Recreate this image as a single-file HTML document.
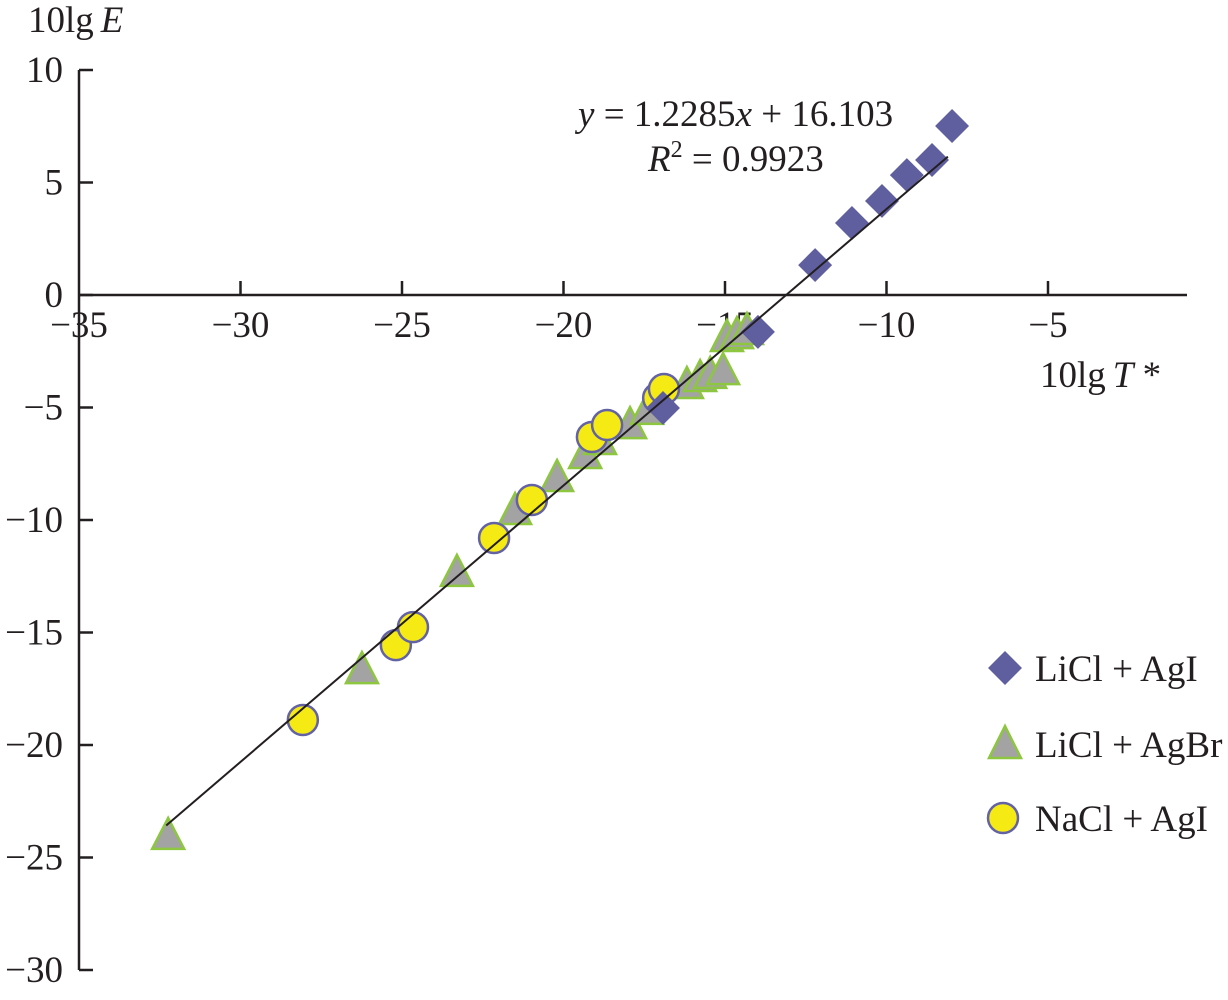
<!DOCTYPE html>
<html><head><meta charset="utf-8"><style>
html,body{margin:0;padding:0;background:#fff;}
svg text{font-family:"Liberation Serif",serif;font-size:37px;fill:#231f20;}
</style></head><body>
<svg id="chart" width="1228" height="995" xmlns="http://www.w3.org/2000/svg">
<g id="axes"></g>
<g id="marks"></g>
<text x="28" y="32">10lg<tspan font-style="italic" dx="7">E</tspan></text>
<text x="1040" y="387">10lg<tspan font-style="italic" dx="7">T</tspan> *</text>
<text x="578" y="126"><tspan font-style="italic">y</tspan> = 1.2285<tspan font-style="italic">x</tspan> + 16.103</text>
<text x="648" y="171"><tspan font-style="italic">R</tspan><tspan font-size="24" dy="-14">2</tspan><tspan dy="14"> = 0.9923</tspan></text>
<g>
<g>
<rect x="993" y="656" width="24" height="24" fill="#5f5f9f" transform="rotate(45 1005 668)"/>
<text x="1035" y="681">LiCl + AgI</text></g>
<g>
<polygon points="1005,726 989,758 1021,758" fill="#a3a3a3" stroke="#8dc63f" stroke-width="2.5"/>
<text x="1035" y="757">LiCl + AgBr</text></g>
<g>
<circle cx="1003" cy="818" r="15" fill="#f5ea14" stroke="#6262a5" stroke-width="2.5"/>
<text x="1035" y="831">NaCl + AgI</text></g>
</g>
</svg>
<script>
const xTicks=[-35,-30,-25,-20,-15,-10,-5];
const yTicks=[10,5,0,-5,-10,-15,-20,-25,-30];
const liclAgiX=[-7.97,-8.59,-9.37,-10.14,-11.07,-12.21,-13.98,-16.92];
const liclAgiY=[7.51,6.0,5.33,4.18,3.2,1.33,-1.64,-5.02];
const liclAgbrX=[-32.24,-26.24,-23.30,-21.50,-20.20,-19.33,-18.87,-17.94,-17.41,-16.18,-15.77,-15.46,-15.06,-14.94,-14.63,-14.32];
const liclAgbrY=[-24.13,-16.76,-12.44,-9.69,-8.22,-7.2,-6.58,-5.87,-5.24,-4.09,-3.78,-3.64,-3.47,-2.0,-1.87,-1.69];
const naclAgiX=[-28.07,-25.19,-24.66,-22.15,-20.98,-19.12,-18.65,-17.07,-16.89];
const naclAgiY=[-18.89,-15.56,-14.76,-10.8,-9.11,-6.31,-5.78,-4.58,-4.18];
const fitSlope=1.2285, fitIntercept=16.103, fitRange=[-32.3,-8.1];

const sx=v=>79+(v+35)*32.3;
const sy=v=>295-v*22.5;
const NS="http://www.w3.org/2000/svg";
const axes=document.getElementById('axes'), marks=document.getElementById('marks');
function mk(tag,attrs,parent){const e=document.createElementNS(NS,tag);for(const k in attrs)e.setAttribute(k,attrs[k]);parent.appendChild(e);return e;}

const ya=mk('line',{x1:79,y1:sy(10),x2:79,y2:sy(-30),stroke:'#231f20','stroke-width':2.5},axes);


const xa=mk('line',{x1:79,y1:sy(0),x2:1187,y2:sy(0),stroke:'#231f20','stroke-width':2.5},axes);


yTicks.forEach(t=>{
  const l=mk('line',{x1:79,y1:sy(t),x2:93,y2:sy(t),stroke:'#231f20','stroke-width':2.5},axes);
  
  
  const tx=mk('text',{x:63,y:sy(t)+12,'text-anchor':'end'},axes);
  tx.textContent=(t<0?'\u2212'+(-t):String(t));
  
  
});
xTicks.forEach(t=>{
  if(t!==-35){const l=mk('line',{x1:sx(t),y1:295,x2:sx(t),y2:281,stroke:'#231f20','stroke-width':2.5},axes);
  
  }
  const tx=mk('text',{x:sx(t),y:337,'text-anchor':'middle'},axes);
  tx.textContent='\u2212'+(-t);
  
  
});
liclAgbrX.forEach((x,i)=>{
  const cx=sx(x), cy=sy(liclAgbrY[i]);
  const p=mk('polygon',{points:`${cx},${cy-20} ${cx-16},${cy+11} ${cx+16},${cy+11}`,fill:'#a3a3a3',stroke:'#8dc63f','stroke-width':2.5},marks);
  
  
});
naclAgiX.forEach((x,i)=>{
  const c=mk('circle',{cx:sx(x),cy:sy(naclAgiY[i]),r:15,fill:'#f5ea14',stroke:'#6262a5','stroke-width':2.5},marks);
  
  
});
liclAgiX.forEach((x,i)=>{
  const cx=sx(x), cy=sy(liclAgiY[i]);
  const r=mk('rect',{x:cx-12,y:cy-12,width:24,height:24,fill:'#5f5f9f',transform:`rotate(45 ${cx} ${cy})`},marks);
  
  
});
const fl=mk('line',{x1:sx(fitRange[0]),y1:sy(fitSlope*fitRange[0]+fitIntercept),x2:sx(fitRange[1]),y2:sy(fitSlope*fitRange[1]+fitIntercept),stroke:'#231f20','stroke-width':2},marks);


</script>
</body></html>
